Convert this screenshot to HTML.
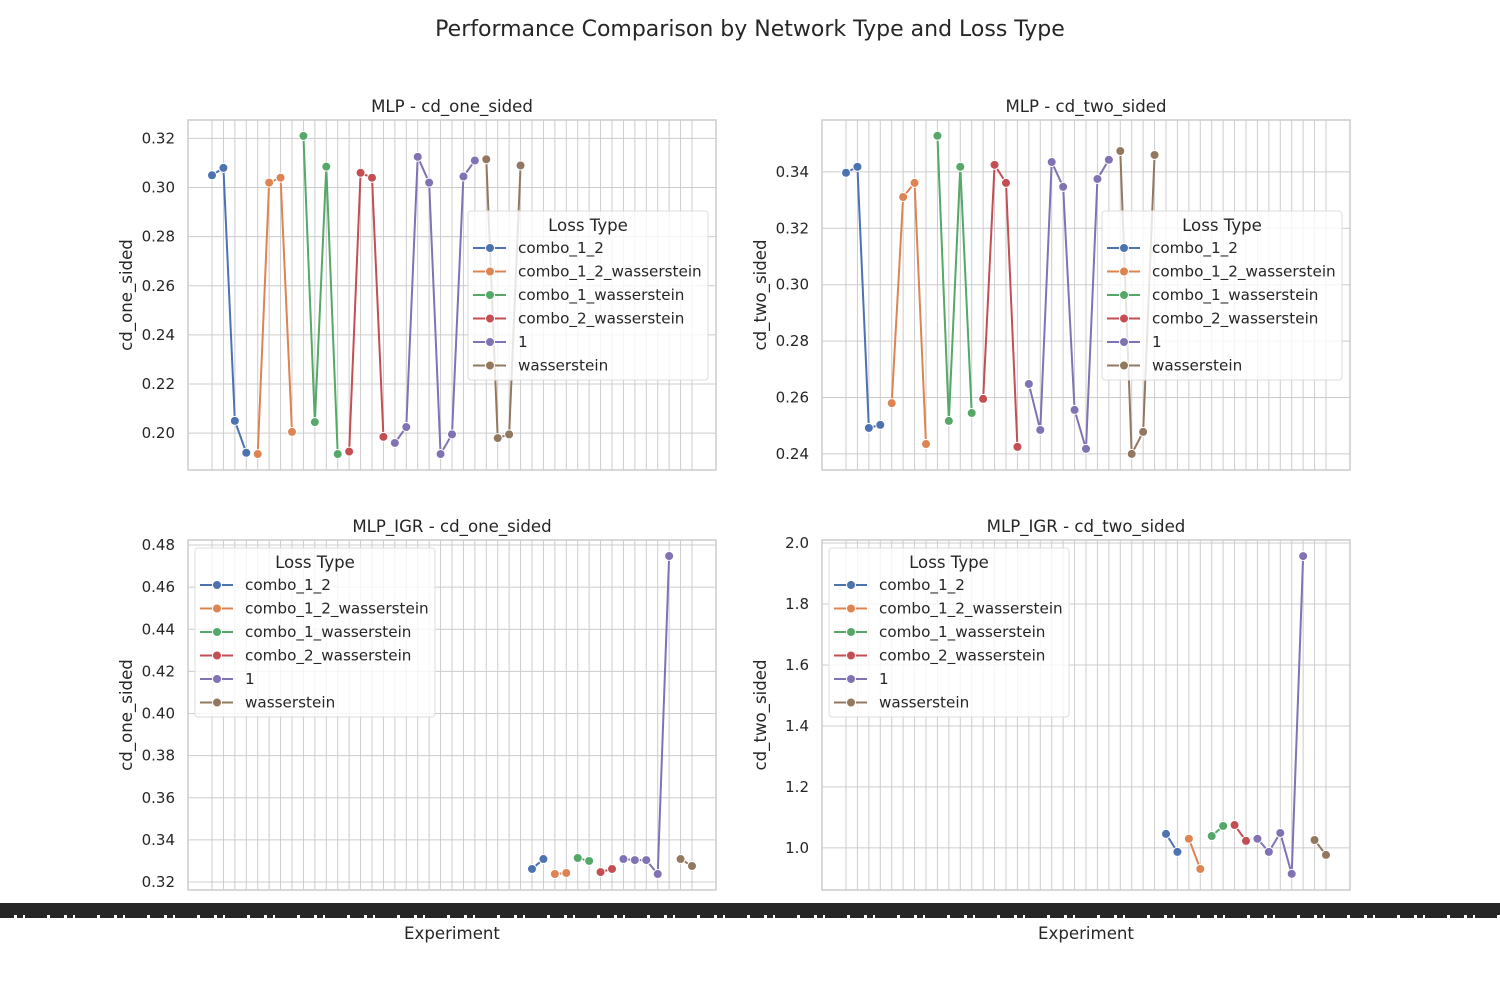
<!DOCTYPE html>
<html><head><meta charset="utf-8"><title>Performance Comparison</title>
<style>
body{margin:0;background:#fff;}
svg{display:block;font-family:"DejaVu Sans","Liberation Sans",sans-serif;}
</style></head>
<body>
<svg id="chart" width="1500" height="1000" viewBox="0 0 1500 1000" xmlns="http://www.w3.org/2000/svg">
<rect x="0" y="0" width="1500" height="1000" fill="#fff"/>
<text x="750" y="36" text-anchor="middle" font-size="22" fill="#262626">Performance Comparison by Network Type and Loss Type</text>
</svg>
<script>
const NS='http://www.w3.org/2000/svg';
const svg=document.getElementById('chart');
const nCats=43;
const lossTypes=['combo_1_2','combo_1_2_wasserstein','combo_1_wasserstein','combo_2_wasserstein','1','wasserstein'];
const colors=['#4c72b0','#dd8452','#55a868','#c44e52','#8172b3','#937860'];
// MLP indices per loss type
const mlpIdx=[[0,1,2,3],[4,5,6,7],[8,9,10,11],[12,13,14,15],[16,17,18,19,20,21,22,23],[24,25,26,27]];
const igrIdx=[[28,29],[30,31],[32,33],[34,35],[36,37,38,39,40],[41,42]];
// values
const mlpOne=[[0.305,0.308,0.205,0.192],[0.1915,0.302,0.304,0.2005],[0.321,0.2045,0.3085,0.1915],[0.1925,0.306,0.304,0.1985],[0.196,0.2025,0.3125,0.302,0.1915,0.1995,0.3045,0.311],[0.3115,0.198,0.1995,0.309]];
const mlpTwo=[[0.3397,0.3418,0.2492,0.2503],[0.258,0.3311,0.3361,0.2435],[0.3528,0.2517,0.3418,0.2545],[0.2595,0.3425,0.3361,0.2425],[0.2648,0.2485,0.3435,0.3347,0.2556,0.2418,0.3375,0.3443],[0.3474,0.240,0.2478,0.346]];
const igrOne=[[0.3262,0.3309],[0.3238,0.3243],[0.3314,0.3300],[0.3247,0.3262],[0.3309,0.3304,0.3304,0.3238,0.4748],[0.3309,0.3276]];
const igrTwo=[[1.046,0.987],[1.03,0.931],[1.039,1.072],[1.075,1.023],[1.03,0.987,1.049,0.915,1.957],[1.026,0.977]];
const ticksOne=[0.20,0.22,0.24,0.26,0.28,0.30,0.32];
const ticksTwo=[0.24,0.26,0.28,0.30,0.32,0.34];
const ticksIgrOne=[0.32,0.34,0.36,0.38,0.40,0.42,0.44,0.46,0.48];
const ticksIgrTwo=[1.0,1.2,1.4,1.6,1.8,2.0];

function el(tag,attrs,parent){const e=document.createElementNS(NS,tag);for(const k in attrs)e.setAttribute(k,attrs[k]);(parent||svg).appendChild(e);return e;}

const panels=[
 {name:'mlp-cd-one-sided',title:'MLP - cd_one_sided',ylabel:'cd_one_sided',x:188,y:120,idx:mlpIdx,vals:mlpOne,ticks:ticksOne,dec:2,ymin:0.185,ymax:0.3275,leg:[468,211],xl:false},
 {name:'mlp-cd-two-sided',title:'MLP - cd_two_sided',ylabel:'cd_two_sided',x:822,y:120,idx:mlpIdx,vals:mlpTwo,ticks:ticksTwo,dec:2,ymin:0.2343,ymax:0.3584,leg:[1102,211],xl:false},
 {name:'mlp-igr-cd-one-sided',title:'MLP_IGR - cd_one_sided',ylabel:'cd_one_sided',x:188,y:540,idx:igrIdx,vals:igrOne,ticks:ticksIgrOne,dec:2,ymin:0.3162,ymax:0.4824,leg:[195,548],xl:true},
 {name:'mlp-igr-cd-two-sided',title:'MLP_IGR - cd_two_sided',ylabel:'cd_two_sided',x:822,y:540,idx:igrIdx,vals:igrTwo,ticks:ticksIgrTwo,dec:1,ymin:0.862,ymax:2.0098,leg:[829,548],xl:true}
];
const W=528,H=350;
panels.forEach(p=>{
 const g=el('g',{});
 
 
 const step=W/((nCats-1)*1.1);
 const xs=i=>p.x+step*(nCats-1)*0.05+i*step;
 const ys=v=>p.y+H-(v-p.ymin)/(p.ymax-p.ymin)*H;
 for(let i=0;i<nCats;i++){const l=el('line',{x1:xs(i),x2:xs(i),y1:p.y,y2:p.y+H,stroke:'#cccccc','stroke-width':1},g);
  }
 p.ticks.forEach(t=>{const y=ys(t);
  const l=el('line',{x1:p.x,x2:p.x+W,y1:y,y2:y,stroke:'#cccccc','stroke-width':1},g);
  
  const tx=el('text',{x:p.x-13,y:y+5,'text-anchor':'end','font-size':15,fill:'#262626'},g);tx.textContent=t.toFixed(p.dec);
  });
 const fr=el('rect',{x:p.x,y:p.y,width:W,height:H,fill:'none',stroke:'#cccccc','stroke-width':1.5},g);
 
 const tt=el('text',{x:p.x+W/2,y:p.y-8,'text-anchor':'middle','font-size':16.6,fill:'#262626'},g);tt.textContent=p.title;
 
 const yl=el('text',{x:0,y:0,'text-anchor':'middle','font-size':16.6,fill:'#262626',transform:`translate(${p.x-56},${p.y+H/2}) rotate(-90)`},g);yl.textContent=p.ylabel;
 
 if(p.xl){const xt=el('text',{x:p.x+W/2,y:939,'text-anchor':'middle','font-size':16.6,fill:'#262626'},g);xt.textContent='Experiment';
  }
 p.idx.forEach((ids,s)=>{
  const pts=ids.map((i,k)=>[xs(i),ys(p.vals[s][k])]);
  const pl=el('polyline',{points:pts.map(q=>q.join(',')).join(' '),fill:'none',stroke:colors[s],'stroke-width':2},g);
  
  pts.forEach(q=>{const c=el('circle',{cx:q[0],cy:q[1],r:4.5,fill:colors[s],stroke:'#fff','stroke-width':1},g);
   });
 });
 // legend
 const lg=el('g',{},g);
 
 const [lx,ly]=p.leg;
 el('rect',{x:lx,y:ly,width:240,height:169,rx:3,fill:'#fff','fill-opacity':0.8,stroke:'#dddddd'},lg);
 const lt=el('text',{x:lx+120,y:ly+20,'text-anchor':'middle','font-size':16.6,fill:'#262626'},lg);lt.textContent='Loss Type';
 
 lossTypes.forEach((n,s)=>{const yy=ly+37+s*23.5;
  const e=el('g',{},lg);
  
  el('line',{x1:lx+5,x2:lx+38,y1:yy,y2:yy,stroke:colors[s],'stroke-width':2},e);
  el('circle',{cx:lx+22,cy:yy,r:4.5,fill:colors[s],stroke:'#fff','stroke-width':1},e);
  const t=el('text',{x:lx+50,y:yy+5,'font-size':15.2,fill:'#262626'},e);t.textContent=n;});
});
// overlapping x tick labels band
const band=el('rect',{x:0,y:903,width:1500,height:12,fill:'#262626'});

const band2=el('line',{x1:0,x2:1500,y1:916.5,y2:916.5,stroke:'#262626','stroke-width':3,'stroke-dasharray':'14 3 6 2 22 3'});

</script>
</body></html>
